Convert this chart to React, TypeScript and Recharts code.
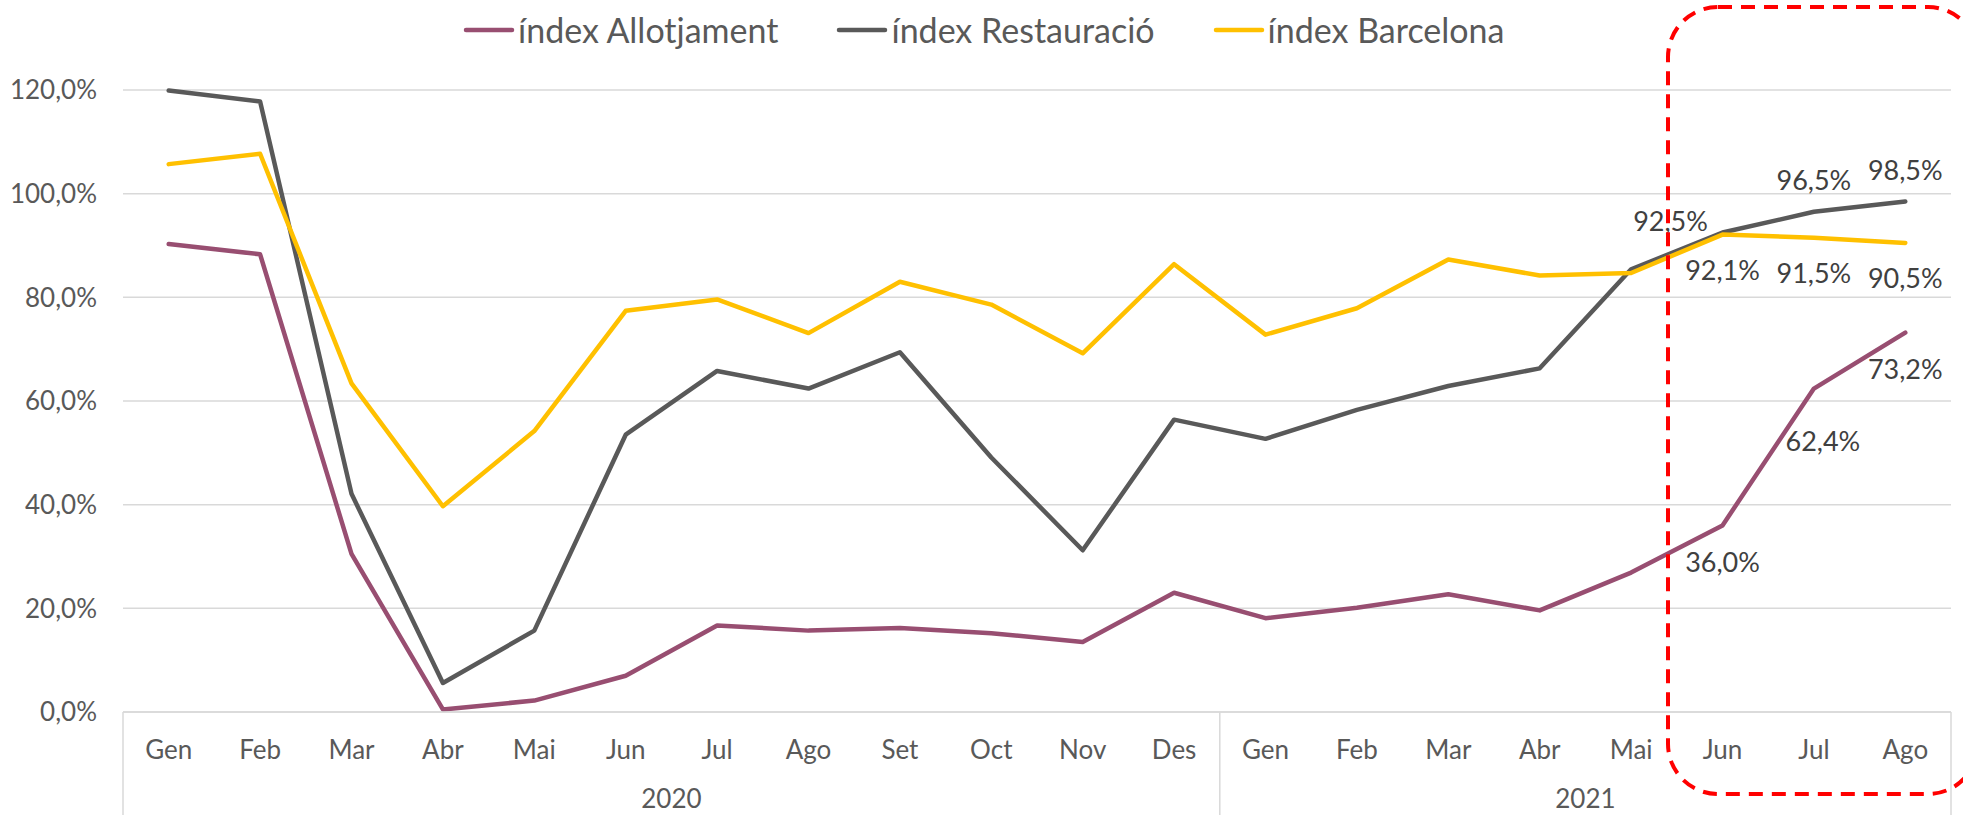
import React from 'react'
import { LineChart, Line, XAxis, YAxis, CartesianGrid } from 'recharts'

document.body.style.margin = '0'

const months = [
  'Gen', 'Feb', 'Mar', 'Abr', 'Mai', 'Jun', 'Jul', 'Ago', 'Set', 'Oct', 'Nov', 'Des',
  'Gen', 'Feb', 'Mar', 'Abr', 'Mai', 'Jun', 'Jul', 'Ago',
]
const years = [
  '2020', '2020', '2020', '2020', '2020', '2020', '2020', '2020', '2020', '2020', '2020', '2020',
  '2021', '2021', '2021', '2021', '2021', '2021', '2021', '2021',
]
const allotjament = [
  90.3, 88.3, 30.5, 0.5, 2.2, 7.0, 16.7, 15.7, 16.2, 15.2, 13.5, 23.0,
  18.1, 20.1, 22.7, 19.6, 26.9, 36.0, 62.4, 73.2,
]
const restauracio = [
  119.9, 117.8, 42.1, 5.6, 15.7, 53.5, 65.8, 62.4, 69.4, 49.1, 31.2, 56.4,
  52.7, 58.3, 62.9, 66.3, 85.4, 92.5, 96.5, 98.5,
]
const barcelona = [
  105.7, 107.7, 63.4, 39.7, 54.2, 77.4, 79.6, 73.1, 83.0, 78.6, 69.2, 86.4,
  72.8, 77.9, 87.3, 84.2, 84.7, 92.1, 91.5, 90.5,
]
const yTicks = [0, 20, 40, 60, 80, 100, 120]
const labelFrom = 17 // Jun 2021 onwards gets value labels

const W = 1963
const H = 815
const Y_AXIS_W = 123
const RIGHT = 12
const X_AXIS_H = 103
const PLOT_W = W - Y_AXIS_W - RIGHT
const BAND = PLOT_W / months.length
const FONT = 'Lato, sans-serif'
const AXIS_COLOR = '#595959'
const GRID = '#d9d9d9'

const series = [
  { key: 'allotjament', name: 'índex Allotjament', color: '#984e71' },
  { key: 'restauracio', name: 'índex Restauració', color: '#595959' },
  { key: 'barcelona', name: 'índex Barcelona', color: '#ffc000' },
]

const data = months.map((m, i) => ({
  key: `${m}-${years[i]}`,
  allotjament: allotjament[i],
  restauracio: restauracio[i],
  barcelona: barcelona[i],
}))

const pct = (v: number) => v.toFixed(1).replace('.', ',') + '%'

function labelOffset(key: string, index: number): [number, number] {
  if (key === 'barcelona') return [0, 35]
  if (key === 'restauracio') return index === labelFrom ? [-52, -12] : [0, -32]
  // allotjament
  if (index === labelFrom + 1) return [9, 52]
  return [0, 36]
}

function makeDot(key: string) {
  return (p: any) => {
    const { cx, cy, index, payload } = p
    if (index < labelFrom || cx == null) return <g key={`${key}-${index}`} />
    const [dx, dy] = labelOffset(key, index)
    return (
      <text
        key={`${key}-${index}`}
        x={cx + dx}
        y={cy + dy}
        textAnchor="middle"
        dominantBaseline="central"
        fill="#404040"
        fontSize={27}
        fontFamily={FONT}
      >
        {pct(payload[key])}
      </text>
    )
  }
}

function MonthTick(props: any) {
  const { x, y, index } = props
  const left = x - BAND / 2
  const firstOfYear = index === 0 || years[index] !== years[index - 1]
  const isLast = index === months.length - 1
  let yearLabel = null
  if (firstOfYear) {
    const count = years.filter((yy) => yy === years[index]).length
    yearLabel = (
      <text
        x={left + (count * BAND) / 2}
        y={y + 86}
        textAnchor="middle"
        dominantBaseline="central"
        fill={AXIS_COLOR}
        fontSize={26}
        fontFamily={FONT}
      >
        {years[index]}
      </text>
    )
  }
  return (
    <g>
      <text
        x={x}
        y={y + 37}
        textAnchor="middle"
        dominantBaseline="central"
        fill={AXIS_COLOR}
        fontSize={26}
        fontFamily={FONT}
      >
        {months[index]}
      </text>
      {firstOfYear && <line x1={left} x2={left} y1={y} y2={y + X_AXIS_H} stroke={GRID} strokeWidth={1.5} />}
      {isLast && <line x1={left + BAND} x2={left + BAND} y1={y} y2={y + X_AXIS_H} stroke={GRID} strokeWidth={1.5} />}
      {yearLabel}
    </g>
  )
}

function ChartLegend() {
  return (
    <div
      style={{
        position: 'absolute',
        top: 9,
        left: 463,
        display: 'flex',
        alignItems: 'center',
        gap: 58,
        fontFamily: FONT,
        fontSize: 34,
        lineHeight: '42px',
        color: AXIS_COLOR,
        whiteSpace: 'nowrap',
      }}
    >
      {series.map((s) => (
        <div key={s.key} style={{ display: 'flex', alignItems: 'center', gap: 3 }}>
          <svg width={52} height={10}>
            <line x1={3} x2={49} y1={5} y2={5} stroke={s.color} strokeWidth={4.5} strokeLinecap="round" />
          </svg>
          <span>{s.name}</span>
        </div>
      ))}
    </div>
  )
}

export default function App() {
  return (
    <div style={{ position: 'relative', width: W, height: H, background: '#fff' }}>
      <LineChart
        width={W}
        height={H}
        data={data}
        margin={{ top: 90, right: RIGHT, bottom: 0, left: 0 }}
      >
        <CartesianGrid vertical={false} stroke={GRID} strokeWidth={1.5} />
        <XAxis
          dataKey="key"
          interval={0}
          height={X_AXIS_H}
          padding={{ left: BAND / 2, right: BAND / 2 }}
          axisLine={{ stroke: GRID, strokeWidth: 1.5 }}
          tickLine={false}
          tickSize={0}
          tickMargin={0}
          tick={<MonthTick />}
        />
        <YAxis
          width={Y_AXIS_W}
          domain={[0, 120]}
          ticks={yTicks}
          axisLine={false}
          tickLine={false}
          tickSize={0}
          tickMargin={26}
          tickFormatter={pct}
          tick={{ fill: AXIS_COLOR, fontSize: 26, fontFamily: FONT }}
        />
        {series.map((s) => (
          <Line
            key={s.key}
            type="linear"
            dataKey={s.key}
            name={s.name}
            stroke={s.color}
            strokeWidth={4.5}
            strokeLinecap="round"
            strokeLinejoin="round"
            dot={makeDot(s.key)}
            activeDot={false}
            isAnimationActive={false}
          />
        ))}
      </LineChart>
      <ChartLegend />
      <svg
        width={W}
        height={H}
        style={{ position: 'absolute', top: 0, left: 0, pointerEvents: 'none' }}
      >
        <rect
          x={1668}
          y={7}
          width={310}
          height={787}
          rx={50}
          ry={50}
          fill="none"
          stroke="#ff0000"
          strokeWidth={4}
          strokeDasharray="14 9"
        />
      </svg>
    </div>
  )
}
